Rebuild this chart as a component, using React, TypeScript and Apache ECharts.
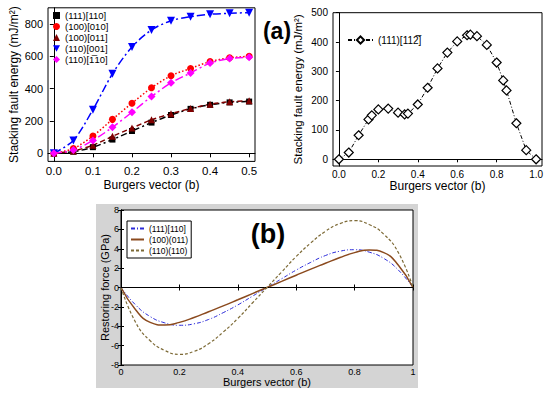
import React, { useEffect, useRef } from "react";
import * as echarts from "echarts";

// ---- Panel (a) left: stacking fault energy vs Burgers vector ----
const xLeft = [0, 0.05, 0.1, 0.15, 0.2, 0.25, 0.3, 0.35, 0.4, 0.45, 0.5];
const sfe111_110 = [0, 10, 38, 85, 138, 190, 237, 275, 300, 315, 320];
const sfe100_010 = [0, 30, 107, 210, 310, 405, 480, 525, 567, 591, 600];
const sfe100_011 = [0, 15, 50, 105, 157, 207, 245, 277, 303, 319, 325];
const sfe110_001 = [0, 80, 270, 492, 658, 763, 820, 845, 860, 866, 870];
const sfe110_1b10 = [0, 20, 80, 161, 254, 351, 436, 497, 558, 586, 594];
const leftYTicks = [0, 200, 400, 600, 800];
const leftXTicks = [0, 0.1, 0.2, 0.3, 0.4, 0.5];

// ---- Panel (a) right ----
const xRight = [0, 0.05, 0.1, 0.15, 0.1667, 0.2, 0.25, 0.3, 0.3333, 0.35, 0.4, 0.45, 0.5, 0.55, 0.6, 0.65, 0.6667, 0.7, 0.75, 0.8, 0.8333, 0.85, 0.9, 0.95, 1.0];
const sfe111_112b = [0, 23, 82, 136, 150, 170, 173, 159, 153, 156, 187, 244, 310, 364, 402, 423, 425, 420, 390, 330, 269, 235, 123, 31, 0];
const rightYTicks = [0, 100, 200, 300, 400, 500];
const rightXTicks = [0, 0.2, 0.4, 0.6, 0.8, 1.0];

// ---- Panel (b): restoring force ----
const xB = [0, 0.05, 0.1, 0.15, 0.2, 0.25, 0.3, 0.35, 0.4, 0.45, 0.5, 0.55, 0.6, 0.65, 0.7, 0.75, 0.8, 0.85, 0.9, 0.95, 1.0];
const rf111_110 = [0, -1.8, -3.0, -3.65, -3.9, -3.75, -3.3, -2.6, -1.8, -0.9, 0, 0.9, 1.8, 2.6, 3.3, 3.75, 3.9, 3.65, 3.0, 1.8, 0];
const rf100_011 = [0, -2.3, -3.6, -3.88, -3.6, -3.1, -2.5, -1.9, -1.27, -0.63, 0, 0.63, 1.27, 1.9, 2.5, 3.1, 3.6, 3.88, 3.6, 2.3, 0];
const rf110_110 = [0, -3.6, -5.5, -6.5, -6.9, -6.6, -5.8, -4.6, -3.2, -1.6, 0, 1.6, 3.2, 4.6, 5.8, 6.6, 6.9, 6.5, 5.5, 3.6, 0];

const zip = (xs: number[], ys: number[]) => xs.map((x, i) => [x, ys[i]]);

const FONT = "Liberation Sans, Arial, sans-serif";

export default function App() {
  const ref = useRef<HTMLDivElement>(null);
  useEffect(() => {
    document.body.style.margin = "0";
    if (!ref.current) return;
    const chart = echarts.init(ref.current, undefined, { renderer: "svg" });
    const axisCommon = {
      axisLine: { show: true, lineStyle: { color: "#000", width: 1 } },
      splitLine: { show: false },
      axisLabel: { color: "#000" },
      nameMoveOverlap: false,
    };
    const nameLeft = ["(111)[110]", "(100)[010]", "(100)[011]", "(110)[001]", "(110)[1\u030510]"];
    const option: any = {
      animation: false,
      textStyle: { fontFamily: FONT },
      graphic: {
        elements: [
          { type: "rect", z: -10, shape: { x: 96, y: 204, width: 322, height: 184 }, style: { fill: "#d4d4d4" }, silent: true },
          { type: "text", x: 277, y: 31, style: { text: "(a)", font: `bold 23px ${FONT}`, fill: "#000", textAlign: "center", textVerticalAlign: "middle" } },
          { type: "text", x: 268, y: 234, style: { text: "(b)", font: `bold 27px ${FONT}`, fill: "#000", textAlign: "center", textVerticalAlign: "middle" } },
        ],
      },
      grid: [
        { left: 48, top: 7.8, width: 207, height: 153.6, show: true, borderColor: "#000", borderWidth: 1, backgroundColor: "transparent" },
        { left: 333, top: 12.7, width: 209, height: 153.3, show: true, borderColor: "#000", borderWidth: 1, backgroundColor: "transparent" },
        { left: 121, top: 210, width: 292, height: 155, show: true, borderColor: "#000", borderWidth: 1, backgroundColor: "#fff" },
      ],
      xAxis: [
        {
          ...axisCommon, type: "value", gridIndex: 0, min: -0.015, max: 0.515,
          name: "Burgers vector (b)", nameLocation: "middle", nameGap: 18,
          nameTextStyle: { fontSize: 12, color: "#000" },
          axisTick: { show: true, inside: false, length: 4, customValues: leftXTicks, lineStyle: { color: "#000" } },
          axisLabel: { color: "#000", fontSize: 11.5, margin: 4, customValues: leftXTicks, formatter: (v: number) => v.toFixed(1) },
        },
        {
          ...axisCommon, type: "value", gridIndex: 1, min: -0.03, max: 1.03,
          name: "Burgers vector (b)", nameLocation: "middle", nameGap: 14,
          nameTextStyle: { fontSize: 12, color: "#000" },
          axisTick: { show: true, inside: false, length: 3, customValues: rightXTicks, lineStyle: { color: "#000" } },
          axisLabel: { color: "#000", fontSize: 10, margin: 3, customValues: rightXTicks, formatter: (v: number) => v.toFixed(1) },
        },
        {
          ...axisCommon, type: "value", gridIndex: 2, min: 0, max: 1, interval: 0.2,
          name: "Burgers vector (b)", nameLocation: "middle", nameGap: 11,
          nameTextStyle: { fontSize: 11, color: "#000" },
          axisTick: { show: true, inside: true, length: 3, lineStyle: { color: "#000" } },
          axisLabel: { color: "#000", fontSize: 9, margin: 2 },
        },
        {
          ...axisCommon, type: "value", gridIndex: 2, min: 0, max: 1, interval: 0.2, position: "top",
          axisTick: { show: true, inside: true, length: 3, lineStyle: { color: "#000" } },
          axisLabel: { show: false },
        },
      ],
      yAxis: [
        {
          ...axisCommon, type: "value", gridIndex: 0, min: -50, max: 900,
          name: "Stacking fault energy (mJ/m\u00b2)", nameLocation: "middle", nameGap: 28.5,
          nameTextStyle: { fontSize: 12, color: "#000" },
          axisTick: { show: true, inside: false, length: 4, customValues: leftYTicks, lineStyle: { color: "#000" } },
          axisLabel: { color: "#000", fontSize: 11, margin: 5, customValues: leftYTicks },
        },
        {
          ...axisCommon, type: "value", gridIndex: 1, min: -22.9, max: 500,
          name: "Stacking fault energy (mJ/m\u00b2)", nameLocation: "middle", nameGap: 29,
          nameTextStyle: { fontSize: 11.5, color: "#000" },
          axisTick: { show: true, inside: false, length: 3, customValues: rightYTicks, lineStyle: { color: "#000" } },
          axisLabel: { color: "#000", fontSize: 10, margin: 5, customValues: rightYTicks },
        },
        {
          ...axisCommon, type: "value", gridIndex: 2, min: -8, max: 8, interval: 2,
          name: "Restoring force (GPa)", nameLocation: "middle", nameGap: 11,
          nameTextStyle: { fontSize: 11, color: "#000" },
          axisTick: { show: true, inside: true, length: 3, lineStyle: { color: "#000" } },
          axisLabel: { color: "#000", fontSize: 9, margin: 2 },
        },
        {
          ...axisCommon, type: "value", gridIndex: 2, min: -8, max: 8, interval: 2, position: "right",
          axisTick: { show: true, inside: true, length: 3, lineStyle: { color: "#000" } },
          axisLabel: { show: false },
        },
      ],
      legend: [
        {
          orient: "vertical", left: 53, top: 10, padding: 0, itemGap: 0, itemWidth: 7, itemHeight: 7,
          textStyle: { fontSize: 9.5, color: "#000", lineHeight: 11 },
          data: [
            { name: nameLeft[0], icon: "rect" },
            { name: nameLeft[1], icon: "circle" },
            { name: nameLeft[2], icon: "triangle" },
            { name: nameLeft[3], icon: "path://M0,0L10,0L5,9Z" },
            { name: nameLeft[4], icon: "diamond" },
          ],
        },
        {
          orient: "vertical", left: 347, top: 35, padding: 0, itemWidth: 25, itemHeight: 9,
          textStyle: { fontSize: 10, color: "#000" },
          data: ["(111)[112\u0305]"],
        },
        {
          orient: "vertical", left: 127, top: 221, padding: [2, 3, 2, 3], itemGap: 0, itemWidth: 13, itemHeight: 8,
          borderColor: "#000", borderWidth: 1, backgroundColor: "#fff",
          itemStyle: { color: "rgba(0,0,0,0)", borderWidth: 0, opacity: 0 },
          textStyle: { fontSize: 8.5, color: "#000", lineHeight: 11 },
          data: ["(111)[110] ", "(100)(011)", "(110)(110)"],
        },
      ],
      series: [
        {
          name: nameLeft[0], type: "line", xAxisIndex: 0, yAxisIndex: 0, data: zip(xLeft, sfe111_110), smooth: 0.3,
          symbol: "rect", symbolSize: 6, itemStyle: { color: "#000" }, lineStyle: { color: "#000", width: 1.5, type: [6, 3, 2, 3] },
        },
        {
          name: nameLeft[1], type: "line", xAxisIndex: 0, yAxisIndex: 0, data: zip(xLeft, sfe100_010), smooth: 0.3,
          symbol: "circle", symbolSize: 7, itemStyle: { color: "#ff0000" }, lineStyle: { color: "#ff0000", width: 1.5, type: [1.5, 2] },
        },
        {
          name: nameLeft[2], type: "line", xAxisIndex: 0, yAxisIndex: 0, data: zip(xLeft, sfe100_011), smooth: 0.3,
          symbol: "triangle", symbolSize: 7, itemStyle: { color: "#800000" }, lineStyle: { color: "#800000", width: 1.5, type: [5, 3] },
        },
        {
          name: nameLeft[3], type: "line", xAxisIndex: 0, yAxisIndex: 0, data: zip(xLeft, sfe110_001), smooth: 0.3,
          symbol: "triangle", symbolRotate: 180, symbolSize: 8, itemStyle: { color: "#0000ff" }, lineStyle: { color: "#0000ff", width: 1.5, type: [8, 3, 2, 3] },
        },
        {
          name: nameLeft[4], type: "line", xAxisIndex: 0, yAxisIndex: 0, data: zip(xLeft, sfe110_1b10), smooth: 0.3,
          symbol: "diamond", symbolSize: 8, itemStyle: { color: "#ff00ff" }, lineStyle: { color: "#ff00ff", width: 1.5, type: [8, 3, 2, 3] },
        },
        {
          name: "(111)[112\u0305]", type: "line", xAxisIndex: 1, yAxisIndex: 1, data: zip(xRight, sfe111_112b),
          symbol: "diamond", symbolSize: 9, itemStyle: { color: "#fff", borderColor: "#000", borderWidth: 1.2 },
          lineStyle: { color: "#000", width: 1, type: [4, 2, 1, 2] },
        },
        {
          name: "(111)[110] ", type: "line", xAxisIndex: 2, yAxisIndex: 2, data: zip(xB, rf111_110), smooth: true,
          showSymbol: false, symbol: "none", itemStyle: { color: "#2b2bd9" }, lineStyle: { color: "#2b2bd9", width: 1, type: [4, 2, 1, 2] },
          markLine: {
            silent: true, symbol: "none", label: { show: false },
            lineStyle: { color: "#000", width: 1, type: [1, 2] },
            data: [{ yAxis: 0 }],
          },
        },
        {
          name: "(100)(011)", type: "line", xAxisIndex: 2, yAxisIndex: 2, data: zip(xB, rf100_011), smooth: true,
          showSymbol: false, symbol: "none", itemStyle: { color: "#8b4a1e" }, lineStyle: { color: "#8b4a1e", width: 1.5, type: "solid" },
        },
        {
          name: "(110)(110)", type: "line", xAxisIndex: 2, yAxisIndex: 2, data: zip(xB, rf110_110), smooth: true,
          showSymbol: false, symbol: "none", itemStyle: { color: "#7d6a36" }, lineStyle: { color: "#7d6a36", width: 1.2, type: [3, 2] },
        },
      ],
    };
    chart.setOption(option);
    return () => chart.dispose();
  }, []);
  return <div ref={ref} style={{ width: 550, height: 395 }} />;
}
